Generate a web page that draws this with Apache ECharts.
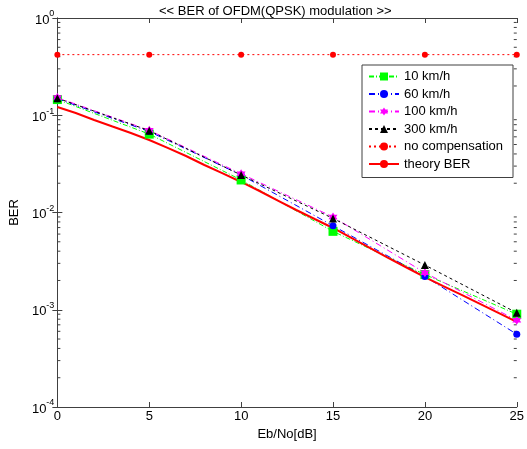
<!DOCTYPE html>
<html>
<head>
<meta charset="utf-8">
<script src="https://cdn.jsdelivr.net/npm/echarts@6/dist/echarts.min.js"></script>
<style>
  html, body { margin: 0; padding: 0; background: #fff; }
  #chart { width: 527px; height: 449px; }
</style>
</head>
<body>
<div id="chart"></div>
<script>
// Eb/No points of the simulated curves
const snrPoints = [0, 5, 10, 15, 20, 25];
const ber10 = [0.145, 0.064, 0.0216, 0.0064, 0.0023, 0.0009];
const ber60 = [0.148, 0.068, 0.0243, 0.0073, 0.0022, 0.00056];
const ber100 = [0.152, 0.070, 0.025, 0.009, 0.0024, 0.00078];
const ber300 = [0.15, 0.0694, 0.0243, 0.0087, 0.00288, 0.00093];
const berNoComp = [0.42, 0.42, 0.42, 0.42, 0.42, 0.42];

// theory curve, read at every dB
const snrTheory = [0, 1, 2, 3, 4, 5, 6, 7, 8, 9, 10, 11, 12, 13, 14, 15, 16, 17, 18, 19, 20, 21, 22, 23, 24, 25];
const berTheory = [0.1216, 0.1055, 0.0894, 0.0766, 0.0657, 0.0557, 0.0461, 0.0381, 0.0308, 0.0252,
  0.0206, 0.01664, 0.01328, 0.01061, 0.00857, 0.00693, 0.00547, 0.00432, 0.00341, 0.00272,
  0.00217, 0.00175, 0.00142, 0.00115, 0.00093, 0.00075];

// log minor ticks (2..9 x 10^k)
const minorTicks = [];
[1e-4, 1e-3, 1e-2, 1e-1].forEach(d => {
  [2, 3, 4, 5, 6, 7, 8, 9].forEach(m => minorTicks.push(+(m * d).toPrecision(3)));
});

const font = 'Liberation Sans, Arial, sans-serif';
const axisColor = '#404040';
const star = 'path://M10 0L12.887 5L18.66 5L15.77 10L18.66 15L12.887 15L10 20L7.113 15L1.34 15L4.23 10L1.34 5L7.113 5Z';

const pairs = (xs, ys) => xs.map((x, i) => [x, ys[i]]);

const myChart = echarts.init(document.getElementById('chart'));

const option = {
  animation: false,
  backgroundColor: '#fff',
  textStyle: { fontFamily: font },
  title: {
    text: '<< BER of OFDM(QPSK) modulation >>',
    left: 154,
    top: 0,
    textStyle: { fontFamily: font, fontSize: 13, fontWeight: 'normal', color: '#000' }
  },
  grid: { left: 53, right: 7, top: 18, bottom: 42 },
  legend: {
    data: ['10 km/h', '60 km/h', '100 km/h', '300 km/h', 'no compensation', 'theory BER'],
    orient: 'vertical',
    left: 362,
    top: 65,
    padding: [5, 10, 7, 6],
    itemWidth: 30,
    itemHeight: 10,
    itemGap: 4.5,
    backgroundColor: '#fff',
    borderColor: '#404040',
    borderWidth: 1,
    borderRadius: 0,
    textStyle: { fontFamily: font, fontSize: 13, color: '#000' }
  },
  xAxis: [
    {
      type: 'value',
      min: 0,
      max: 25,
      interval: 5,
      name: 'Eb/No[dB]',
      nameLocation: 'middle',
      nameGap: 15,
      nameTextStyle: { fontFamily: font, fontSize: 13, color: '#000' },
      axisLine: { show: true, lineStyle: { color: axisColor } },
      axisTick: { show: true, inside: true, length: 5, lineStyle: { color: axisColor } },
      axisLabel: { margin: 3, fontFamily: font, fontSize: 13, color: '#000' },
      splitLine: { show: false }
    },
    {
      type: 'value',
      position: 'top',
      min: 0,
      max: 25,
      interval: 5,
      axisLine: { show: true, lineStyle: { color: axisColor } },
      axisTick: { show: true, inside: true, length: 5, lineStyle: { color: axisColor } },
      axisLabel: { show: false },
      splitLine: { show: false }
    }
  ],
  yAxis: [
    {
      type: 'log',
      logBase: 10,
      min: 1e-4,
      max: 1,
      name: 'BER',
      nameLocation: 'middle',
      nameRotate: 90,
      nameGap: 34,
      nameTextStyle: { fontFamily: font, fontSize: 13, color: '#000' },
      axisLine: { show: true, lineStyle: { color: axisColor } },
      axisTick: { show: true, inside: true, length: 5, lineStyle: { color: axisColor } },
      axisLabel: {
        margin: 3,
        formatter: v => '{b|10}{s|' + Math.round(Math.log10(v)) + '}',
        rich: {
          b: { fontFamily: font, fontSize: 13, color: '#000', verticalAlign: 'bottom' },
          s: { fontFamily: font, fontSize: 9, color: '#000', verticalAlign: 'top', padding: [0, 0, 8, 0] }
        }
      },
      splitLine: { show: false }
    },
    {
      type: 'log',
      logBase: 10,
      min: 1e-4,
      max: 1,
      position: 'right',
      axisLine: { show: true, lineStyle: { color: axisColor } },
      axisTick: { show: true, inside: true, length: 5, lineStyle: { color: axisColor } },
      axisLabel: { show: false },
      splitLine: { show: false }
    }
  ],
  series: [
    {
      type: 'custom',
      silent: true,
      clip: false,
      data: minorTicks.map(v => [0, v]),
      renderItem: (params, api) => {
        const v = api.value(1);
        const l = api.coord([0, v]);
        const r = api.coord([25, v]);
        const style = { stroke: axisColor, lineWidth: 1 };
        return {
          type: 'group',
          children: [
            { type: 'line', shape: { x1: l[0], y1: l[1], x2: l[0] + 3, y2: l[1] }, style },
            { type: 'line', shape: { x1: r[0] - 3, y1: r[1], x2: r[0], y2: r[1] }, style }
          ]
        };
      }
    },
    {
      name: '10 km/h',
      type: 'line',
      data: pairs(snrPoints, ber10),
      symbol: 'rect',
      symbolSize: 9,
      itemStyle: { color: '#00ff00' },
      lineStyle: { color: '#00ff00', width: 1, type: [5, 2, 1, 2] }
    },
    {
      name: '60 km/h',
      type: 'line',
      data: pairs(snrPoints, ber60),
      symbol: 'circle',
      symbolSize: 7,
      itemStyle: { color: '#0000ff' },
      lineStyle: { color: '#0000ff', width: 1, type: [6, 3, 1, 3] }
    },
    {
      name: '100 km/h',
      type: 'line',
      data: pairs(snrPoints, ber100),
      symbol: star,
      symbolSize: 9,
      itemStyle: { color: '#ff00ff' },
      lineStyle: { color: '#ff00ff', width: 1, type: [6, 3, 1, 3] }
    },
    {
      name: '300 km/h',
      type: 'line',
      data: pairs(snrPoints, ber300),
      symbol: 'triangle',
      symbolSize: 8,
      itemStyle: { color: '#000' },
      lineStyle: { color: '#000', width: 1, type: [3, 3] }
    },
    {
      name: 'no compensation',
      type: 'line',
      data: pairs(snrPoints, berNoComp),
      symbol: 'circle',
      symbolSize: 6,
      itemStyle: { color: '#ff0000' },
      lineStyle: { color: '#ff0000', width: 1, type: [2, 3] }
    },
    {
      name: 'theory BER',
      type: 'line',
      data: pairs(snrTheory, berTheory),
      showSymbol: false,
      symbol: 'none',
      itemStyle: { color: '#ff0000' },
      lineStyle: { color: '#ff0000', width: 2 }
    }
  ]
};

myChart.setOption(option);
</script>
</body>
</html>
